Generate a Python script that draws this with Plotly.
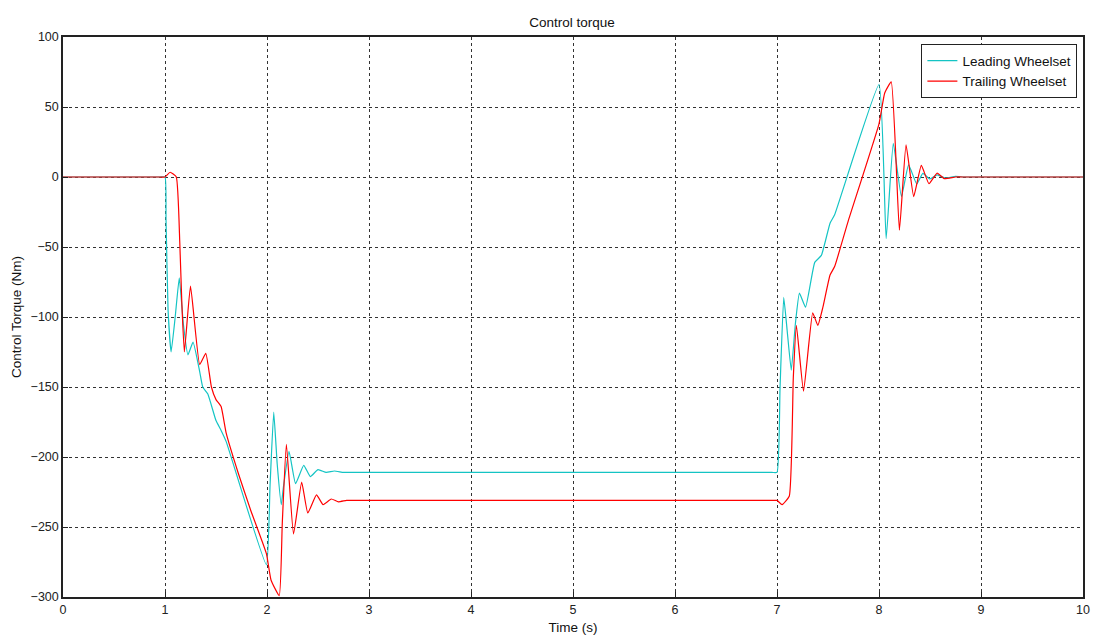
import plotly.graph_objects as go

# Leading wheelset control torque (time in s, torque in Nm)
lead_t = [0.0, 0.5, 0.95, 1.0, 1.01, 1.03, 1.06, 1.10, 1.14, 1.18, 1.225, 1.275, 1.34, 1.37, 1.42, 1.50,
          1.55, 1.60, 1.994, 2.03, 2.066, 2.10, 2.14, 2.16, 2.216, 2.28, 2.36, 2.425, 2.50,
          2.58, 2.66, 2.75, 2.85, 5.0, 6.95, 7.0, 7.03, 7.066, 7.10, 7.14, 7.18, 7.22, 7.28, 7.37, 7.435, 7.52,
          7.565, 8.0, 8.07, 8.14, 8.22, 8.29, 8.37, 8.43, 8.50, 8.57, 8.65, 8.75, 8.83, 8.9, 10.0]
lead_v = [0, 0, 0, 0, -30, -95, -125, -100, -72, -105, -127, -118, -139, -150, -155, -174,
          -181, -189, -277, -220, -168, -205, -234, -222, -196, -219, -206, -214, -209,
          -211, -210, -211, -211, -211, -211, -211, -150, -86, -110, -138, -105, -83, -93, -61, -56, -33,
          -27, 66, -44, 24, -14, 8.6, -5, 2.6, -1.4, 1.5, -0.8, 0.5, 0, 0, 0]

# Trailing wheelset control torque
trail_t = [0.0, 0.5, 0.95, 1.0, 1.05, 1.11, 1.145, 1.165, 1.19, 1.25, 1.34, 1.40, 1.455, 1.50, 1.55,
           1.60, 1.72, 1.84, 1.994, 2.04, 2.12, 2.15, 2.19, 2.26, 2.34, 2.40, 2.485, 2.55,
           2.63, 2.70, 2.78, 2.88, 5.0, 6.95, 7.0, 7.05, 7.12, 7.16, 7.19, 7.26, 7.35, 7.40, 7.45, 7.52,
           7.565, 7.70, 8.0, 8.056, 8.12, 8.20, 8.265, 8.34, 8.415, 8.49, 8.57, 8.64, 8.75, 8.85, 10.0]
trail_v = [0, 0, 0, 0, 3.4, 0.2, -47, -90, -125, -78, -134, -126, -150, -159, -164,
           -183, -212, -238, -269, -288, -299, -247, -191, -255, -218, -240, -227, -234,
           -230, -232, -231, -231, -231, -231, -231, -234, -228, -143, -106, -153, -97, -106, -93, -70,
           -64, -31, 38, 60, 68, -38, 23, -14, 8.3, -4.8, 2.8, -1.2, 0, 0, 0]

x_ticks = list(range(0, 11))
y_ticks = list(range(-300, 101, 50))

FONT = "Liberation Sans, Arial"

fig = go.Figure()
fig.add_trace(go.Scatter(x=lead_t, y=lead_v, mode="lines", name="Leading Wheelset",
                         line=dict(color="#14C4C4", width=1.2, shape="spline", smoothing=0.4)))
fig.add_trace(go.Scatter(x=trail_t, y=trail_v, mode="lines", name="Trailing Wheelset",
                         line=dict(color="#FF0000", width=1.2, shape="spline", smoothing=0.4)))

axis_common = dict(
    showline=True, linecolor="#222222", linewidth=1.5, mirror=True,
    ticks="inside", ticklen=5, tickcolor="#222222",
    showgrid=True, gridcolor="#333333", gridwidth=1, griddash="3px,3px",
    zeroline=False, automargin=False,
    tickfont=dict(family=FONT, size=12.5, color="#222222"),
)

fig.update_layout(
    width=1094, height=635,
    margin=dict(l=63, r=11, t=37, b=38),
    paper_bgcolor="white", plot_bgcolor="white",
    title=dict(text="Control torque", x=572 / 1094, xanchor="center",
               y=1 - 22 / 635, yanchor="middle", automargin=False,
               font=dict(family=FONT, size=13.5, color="#111111")),
    xaxis=dict(range=[0, 10], tickvals=x_ticks,
               title=dict(text="Time (s)", standoff=7,
                          font=dict(family=FONT, size=13.5, color="#111111")),
               **axis_common),
    yaxis=dict(range=[-300, 100], tickvals=y_ticks,
               title=dict(text="Control Torque (Nm)", standoff=6,
                          font=dict(family=FONT, size=13.5, color="#111111")),
               **axis_common),
    legend=dict(x=0.9945, y=0.987, xanchor="right", yanchor="top",
                bgcolor="white", bordercolor="#222222", borderwidth=1,
                font=dict(family=FONT, size=13.5, color="#111111"),
                tracegroupgap=0, itemwidth=30),
    showlegend=True,
)

fig.write_html("out.html")
